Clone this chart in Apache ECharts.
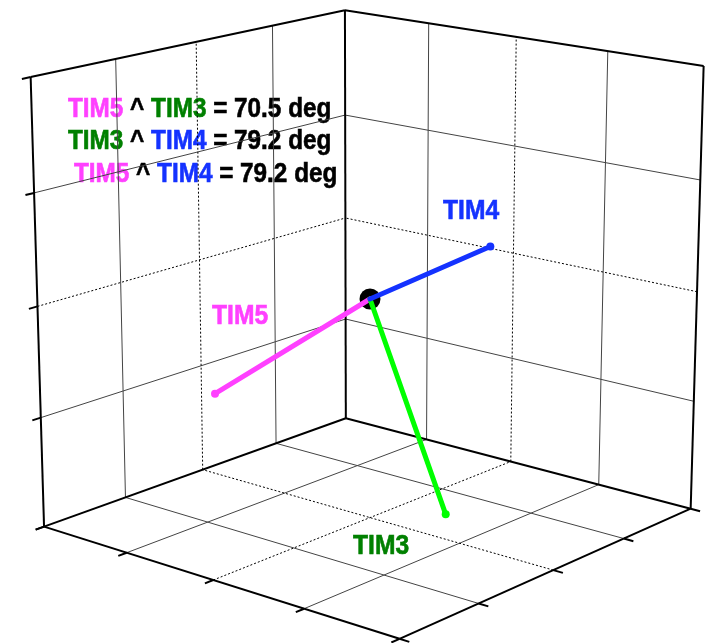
<!DOCTYPE html>
<html>
<head>
<meta charset="utf-8">
<title>TIM axes</title>
<script src="https://cdn.jsdelivr.net/npm/echarts@6/dist/echarts.min.js"></script>
<style>
  html, body { margin: 0; padding: 0; background: #ffffff; }
  #main { width: 706px; height: 643px; }
</style>
</head>
<body>
<div id="main"></div>
<script>
// Direction vectors (unit length), one entry per named axis
const vectorNames = ['TIM5', 'TIM3', 'TIM4'];
const vecX = [-0.982, -0.1809, -0.268];
const vecY = [-0.008, -0.5691, -0.859];
const vecZ = [-0.189, -0.8025, 0.436];

// Pairs whose enclosed angle is reported
const anglePairs = [[0, 1], [1, 2], [0, 2]];

// Tick values shared by the three axes of the box
const axisTicks = [-1, -0.5, 0, 0.5, 1];

// Perspective camera looking down at the box centre
const camera = { focal: 3135, distance: 13.4, elevation: 15.7, azimuth: 40.3, cx: 370, cy: 299, zScale: 0.99 };

function project(p) {
  const az = camera.azimuth * Math.PI / 180;
  const el = camera.elevation * Math.PI / 180;
  const sa = Math.sin(az), ca = Math.cos(az);
  const se = Math.sin(el), ce = Math.cos(el);
  const z = p[2] * camera.zScale;
  const r = p[0] * sa - p[1] * ca;          // screen-right component
  const s = p[0] * ca + p[1] * sa;          // horizontal depth component
  const yc = z * ce + s * se;               // camera up
  const zc = camera.distance - z * se + s * ce; // camera depth
  return [camera.cx + camera.focal * r / zc, camera.cy - camera.focal * yc / zc];
}

const lo = axisTicks[0];
const hi = axisTicks[axisTicks.length - 1];
const tickLen = 0.05;

// Grid lines on the floor and the two back walls
const gridSegs = [];
const zeroSegs = [];
axisTicks.slice(1, -1).forEach(t => {
  const target = t === 0 ? zeroSegs : gridSegs;
  target.push([[t, hi, lo], [t, hi, hi]]);   // left wall, vertical
  target.push([[lo, hi, t], [hi, hi, t]]);   // left wall, horizontal
  target.push([[hi, t, lo], [hi, t, hi]]);   // right wall, vertical
  target.push([[hi, lo, t], [hi, hi, t]]);   // right wall, horizontal
  target.push([[t, lo, lo], [t, hi, lo]]);   // floor
  target.push([[lo, t, lo], [hi, t, lo]]);   // floor
});

// Box edges
const cL = [lo, hi, lo], cB = [hi, hi, lo], cR = [hi, lo, lo], cF = [lo, lo, lo];
const cLT = [lo, hi, hi], cBT = [hi, hi, hi], cRT = [hi, lo, hi];
const edgeSegs = [
  [cL, cLT], [cB, cBT], [cR, cRT], [cLT, cBT], [cBT, cRT],
  [cL, cB], [cB, cR], [cL, cF], [cF, cR]
];

// Tick marks along the three labelled edges
const tickSegs = [];
axisTicks.forEach(t => {
  tickSegs.push([[lo, hi, t], [lo - tickLen, hi, t]]);   // vertical axis
  tickSegs.push([[lo, t, lo], [lo - tickLen, t, lo]]);   // front-left floor edge
  tickSegs.push([[t, lo, lo], [t, lo - tickLen, lo]]);   // front-right floor edge
});

const toLines = segs => segs.map(s => ({ coords: [project(s[0]), project(s[1])] }));

const vecColors = ['#ff40ff', '#00ff00', '#1432ff'];
const textColors = ['#ff40ff', '#008000', '#1432ff'];

function angleDeg(i, j) {
  const a = [vecX[i], vecY[i], vecZ[i]];
  const b = [vecX[j], vecY[j], vecZ[j]];
  const dot = a[0] * b[0] + a[1] * b[1] + a[2] * b[2];
  const na = Math.hypot(a[0], a[1], a[2]);
  const nb = Math.hypot(b[0], b[1], b[2]);
  return Math.acos(dot / (na * nb)) * 180 / Math.PI;
}

const FONT = '"Liberation Sans", Arial, Helvetica, sans-serif';
function token(color) {
  return {
    fill: color, fontSize: 27, fontWeight: 'bold', fontFamily: FONT,
    stroke: color, lineWidth: 0.6
  };
}
const richStyles = {};
textColors.forEach((c, i) => { richStyles['c' + i] = token(c); });
richStyles.k = token('#000000');

const angleLinePos = [[68, 110], [68, 142], [74, 175]];
const angleTexts = anglePairs.map((pr, k) => ({
  type: 'text',
  x: angleLinePos[k][0],
  y: angleLinePos[k][1],
  scaleX: 0.9,
  style: {
    text: '{c' + pr[0] + '|' + vectorNames[pr[0]] + '}{k| ^ }{c' + pr[1] + '|' + vectorNames[pr[1]] + '}{k| = ' +
      angleDeg(pr[0], pr[1]).toFixed(1) + ' deg}',
    rich: richStyles,
    fontSize: 27, fontWeight: 'bold', fontFamily: FONT,
    align: 'left', verticalAlign: 'middle'
  }
}));

const labelPos = [[212, 316], [353, 546], [443, 211]];
const nameTexts = vectorNames.map((n, i) => ({
  type: 'text',
  x: labelPos[i][0],
  y: labelPos[i][1],
  scaleX: 0.88,
  style: {
    text: n, fill: textColors[i], stroke: textColors[i], lineWidth: 0.6,
    fontSize: 28, fontWeight: 'bold', fontFamily: FONT,
    align: 'left', verticalAlign: 'middle'
  }
}));

const origin = project([0, 0, 0]);
const vectorSeries = vectorNames.map((n, i) => ({
  type: 'line',
  name: n,
  z: 10 + i,
  silent: true,
  data: [
    { value: origin, symbol: 'none' },
    { value: project([vecX[i], vecY[i], vecZ[i]]) }
  ],
  symbol: 'circle',
  symbolSize: 8,
  showSymbol: true,
  itemStyle: { color: vecColors[i], opacity: 1 },
  lineStyle: { color: vecColors[i], width: 5, cap: 'round', opacity: 1 }
}));

const chart = echarts.init(document.getElementById('main'), null, { renderer: 'canvas' });
chart.setOption({
  animation: false,
  backgroundColor: '#ffffff',
  grid: { left: 0, right: 0, top: 0, bottom: 0 },
  xAxis: { type: 'value', min: 0, max: 706, show: false },
  yAxis: { type: 'value', min: 0, max: 643, inverse: true, show: false },
  graphic: angleTexts.concat(nameTexts),
  series: [
    {
      type: 'lines', coordinateSystem: 'cartesian2d', silent: true, z: 1,
      data: toLines(gridSegs),
      lineStyle: { color: '#444444', width: 1, opacity: 1 }
    },
    {
      type: 'lines', coordinateSystem: 'cartesian2d', silent: true, z: 2,
      data: toLines(zeroSegs),
      lineStyle: { color: '#000000', width: 1, type: [2, 2], opacity: 1 }
    },
    {
      type: 'lines', coordinateSystem: 'cartesian2d', silent: true, z: 3,
      data: toLines(edgeSegs.concat(tickSegs)),
      lineStyle: { color: '#000000', width: 2, opacity: 1 }
    },
    {
      type: 'scatter', silent: true, z: 5,
      data: [origin],
      symbol: 'circle', symbolSize: 21,
      itemStyle: { color: '#000000', opacity: 1 }
    }
  ].concat(vectorSeries)
});
</script>
</body>
</html>
